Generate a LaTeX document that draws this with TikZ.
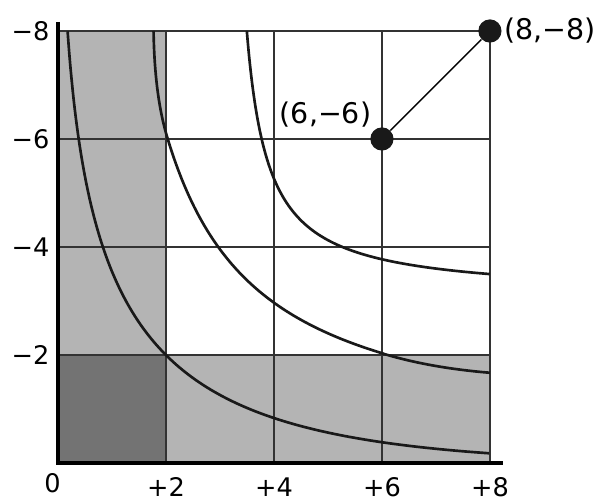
\documentclass[tikz,border=0pt]{standalone}
\usepackage{fontspec}
\setmainfont{DejaVu Sans}
\usetikzlibrary{positioning, calc}
\definecolor{lightshade}{HTML}{B4B4B4}
\definecolor{darkshade}{HTML}{737373}

\begin{document}
\begin{tikzpicture}[font=\fontsize{13.5}{16}\selectfont, >=stealth,
    gridline/.style={line width=0.9pt, black!80},
    curve/.style={line width=1.4pt, black!90, samples=80, smooth},
    dot/.style={circle, fill=black!90, inner sep=0pt, minimum size=0.43cm},
    pointlabel/.style={font=\fontsize{15}{18}\selectfont, inner sep=1pt}]
    \useasboundingbox (-1.074,-0.704) rectangle (10.02,8.574);
    % shaded cells
    \fill[lightshade] (0,0) rectangle (2,8);
    \fill[lightshade] (2,0) rectangle (8,2);
    \fill[darkshade] (0,0) rectangle (2,2);
    % grid
    \foreach \k in {2,4,6,8} {
        \draw[gridline] (\k,0) -- (\k,8);
        \draw[gridline] (0,\k) -- (8,\k);
    }
    % curves
    \draw[curve] plot[domain=0.596:1.866] ({pow(\x,10/3)}, {pow(2.462-\x,10/3)});
    \draw[curve] (8,1.67) .. controls (7.4,1.72) and (6.7,1.817) .. (6,2.03)
        -- plot[domain=0.83595:0.93303] ({1/pow(\x,10)}, {1/pow(1.7675-\x,10)})
        .. controls (1.83,6.69) and (1.78,7.4) .. (1.77,8);
    \draw[curve] plot[domain=-1.256:1.256] ({3.1+1.396*exp(\x)}, {3.1+1.396*exp(-\x)});
    % axes
    \draw[line width=2pt] (0,8.17) -- (0,0) -- (8.24,0);
    % tick labels
    \foreach \k in {2,4,6,8} {
        \node[anchor=east, inner sep=0pt] (y\k) at (-0.15,\k) {−\k};
        \node (x\k) at (\k,-0.44) {+\k};
    }
    \node (o) at (-0.1,-0.38) {0};
    % points
    \node[dot] (p6) at (6,6) {};
    \node[dot] (p8) at (8,8) {};
    \draw[line width=0.8pt] (p6) -- (p8);
    \node[pointlabel, above left=0.02cm and 0cm of p6] (l6) {(6,−6)};
    \node[pointlabel, right=0pt of p8] (l8) {(8,−8)};
\end{tikzpicture}
\end{document}
